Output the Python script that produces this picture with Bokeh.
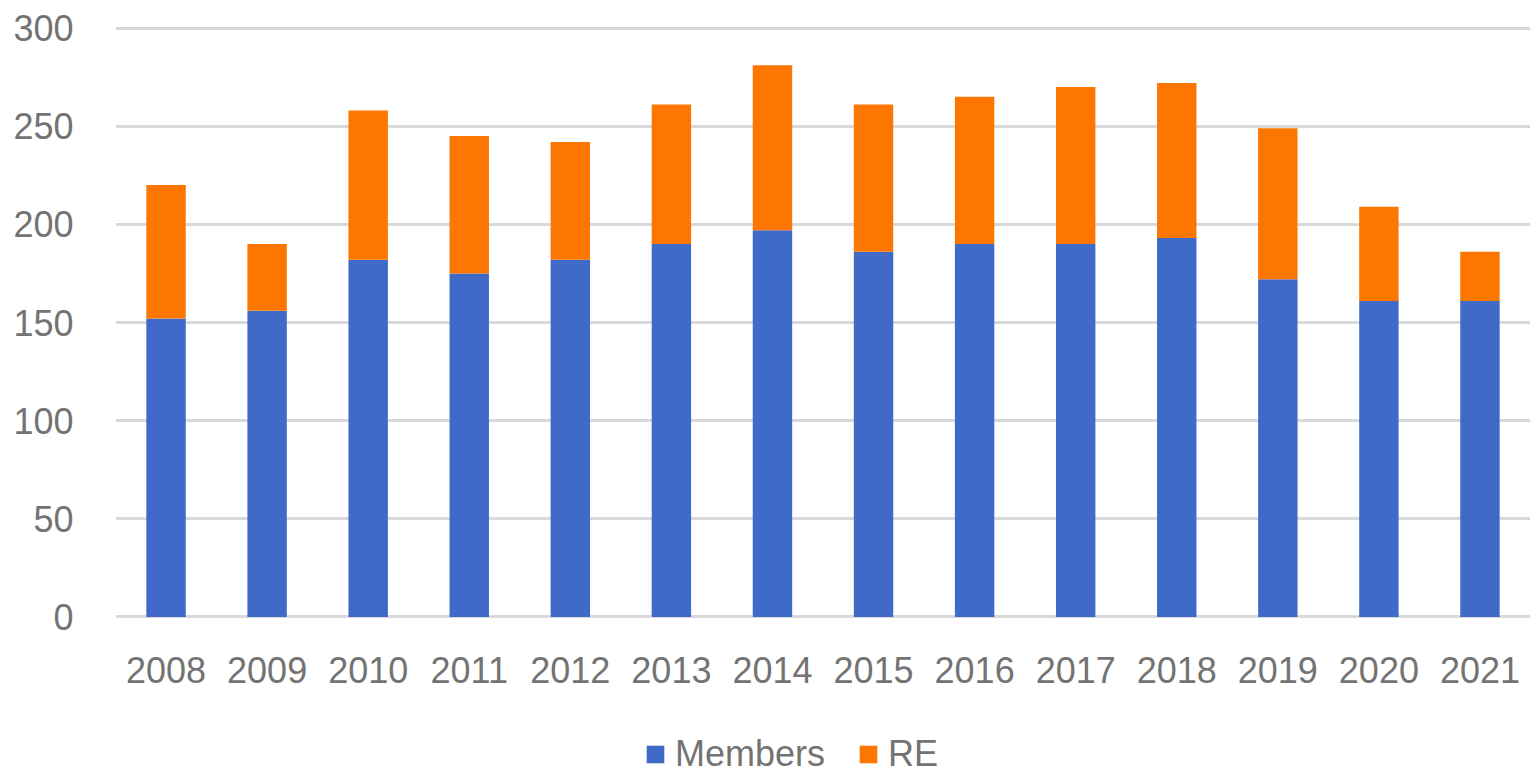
from bokeh.plotting import figure
from bokeh.models import ColumnDataSource, FactorRange, Range1d, Legend, LegendItem, FixedTicker
from bokeh.layouts import column
from bokeh.embed import file_html
from bokeh.resources import INLINE

years = ["2008", "2009", "2010", "2011", "2012", "2013", "2014",
         "2015", "2016", "2017", "2018", "2019", "2020", "2021"]
members = [152, 156, 182, 175, 182, 190, 197, 186, 190, 190, 193, 172, 161, 161]
re_vals = [68, 34, 76, 70, 60, 71, 84, 75, 75, 80, 79, 77, 48, 25]
y_ticks = [0, 50, 100, 150, 200, 250, 300]
series = ["Members", "RE"]
colors = ["#406ac8", "#fd7700"]

src = ColumnDataSource(dict(year=years, Members=members, RE=re_vals))

p = figure(x_range=FactorRange(*years, range_padding=0), y_range=Range1d(-0.8, 300.8),
           frame_width=1415, frame_height=592, output_backend="svg", toolbar_location=None,
           min_border_left=115, min_border_right=0, min_border_top=26, min_border_bottom=112)

p.vbar_stack(series, x="year", width=0.39, source=src, color=colors, line_color=None)

p.outline_line_color = None
p.xgrid.grid_line_color = None
p.ygrid.grid_line_color = "#d9d9d9"
p.ygrid.grid_line_width = 3
p.yaxis.ticker = FixedTicker(ticks=y_ticks)
for ax in (p.xaxis, p.yaxis):
    ax.axis_line_color = None
    ax.major_tick_line_color = None
    ax.minor_tick_line_color = None
    ax.major_label_text_font = "Liberation Sans"
    ax.major_label_text_font_size = "36px"
    ax.major_label_text_color = "#737373"
p.yaxis.major_label_standoff = 36
p.xaxis.major_label_standoff = 32

# separate strip for the legend, below the chart
leg = figure(width=1530, height=46, x_range=Range1d(0, 1), y_range=Range1d(0, 1),
             x_axis_type=None, y_axis_type=None, output_backend="svg", toolbar_location=None,
             min_border_left=0, min_border_right=0, min_border_top=0, min_border_bottom=0)
leg.outline_line_color = None
leg.xgrid.grid_line_color = None
leg.ygrid.grid_line_color = None
items = []
for name, c in zip(series, colors):
    # a swatch glyph kept outside the visible range; only its legend entry shows
    rr = leg.vbar(x=[-10], top=[-10], bottom=[-11], width=0.1, color=c, line_color=None)
    items.append(LegendItem(label=name, renderers=[rr]))

legend = Legend(items=items, orientation="horizontal", location=(529, 1),
                label_text_font="Liberation Sans", label_text_font_size="36px",
                label_text_color="#737373", glyph_width=22, glyph_height=22,
                spacing=32, label_standoff=9, border_line_color=None,
                background_fill_alpha=0, margin=0, padding=0)
leg.add_layout(legend, "center")

open("out.html", "w").write(file_html(column(p, leg), INLINE))
